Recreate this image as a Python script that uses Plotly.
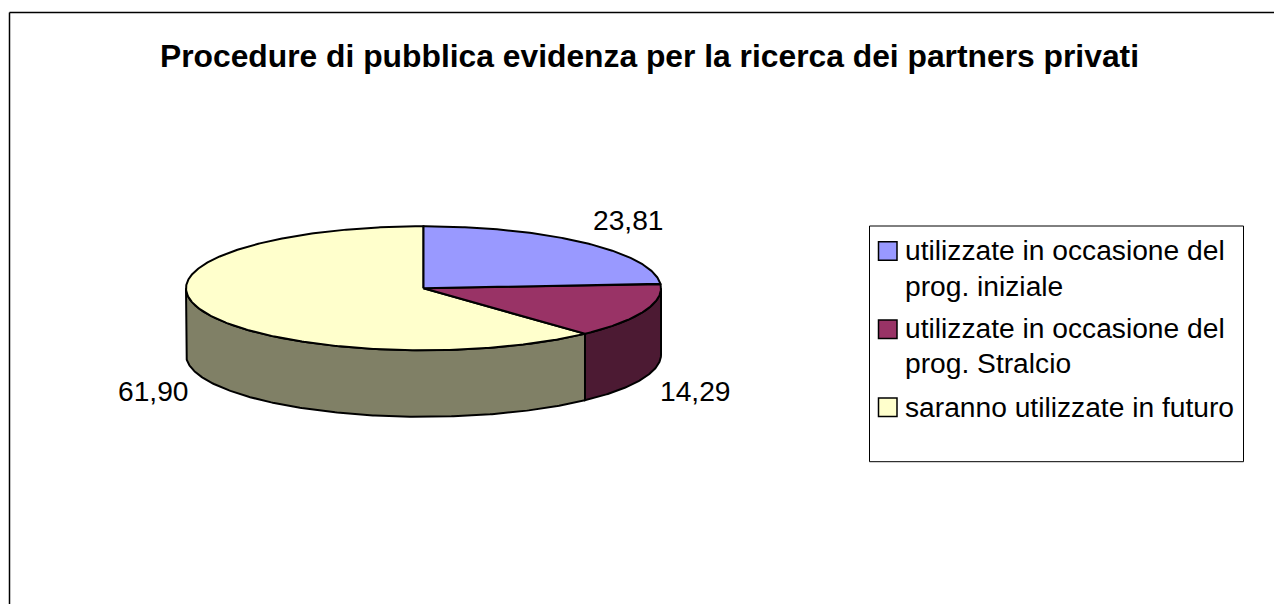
import math
import plotly.graph_objects as go

# ---- data ----
title = "Procedure di pubblica evidenza per la ricerca dei partners privati"
categories = ["utilizzate in occasione del\nprog. iniziale",
              "utilizzate in occasione del\nprog. Stralcio",
              "saranno utilizzate in futuro"]
values = [23.81, 14.29, 61.90]
top_colors = ["#9999FF", "#993366", "#FFFFCC"]
side_colors = ["#4D4D80", "#4C1A33", "#808066"]

# ---- layout constants (pixel-mapped axes) ----
W, H = 1274, 604
CX, CY, RX, RY, DEPTH = 423.5, 288.3, 237.5, 62, 66.5
FONT = "Liberation Sans, Arial, sans-serif"
LABEL_POS = [(628.5, 220), (695.5, 391), (153.5, 391)]
FS_LABEL = 28.2


def pt(deg, dy=0):
    a = math.radians(deg)
    return CX + RX * math.sin(a), CY - RY * math.cos(a) + dy


def arc(a0, a1, dy=0):
    n = max(2, int(abs(a1 - a0) / 0.5) + 1)
    return [pt(a0 + (a1 - a0) * i / (n - 1), dy) for i in range(n)]


fig = go.Figure()
total = sum(values)
spans = []
start = 0.0
for v in values:
    end = start + v / total * 360
    spans.append((start, end))
    start = end

LINE = dict(color="#000000", width=2)


def add_poly(points, fill, name):
    xs = [p[0] for p in points]
    ys = [p[1] for p in points]
    fig.add_trace(go.Scatter(x=xs, y=ys, mode="lines", fill="toself", fillcolor=fill,
                             line=LINE, name=name, showlegend=False, hoverinfo="name"))


# side walls: only the front half of the disc (90..270 degrees from the top)
for (a0, a1), c, cat in zip(spans, side_colors, categories):
    lo, hi = max(a0, 90), min(a1, 270)
    if hi > lo:
        add_poly(arc(lo, hi) + arc(hi, lo, DEPTH) + [pt(lo)], c, cat.replace("\n", " "))

# top faces, yellow first as the reference stacks them
for i in (2, 1, 0):
    a0, a1 = spans[i]
    add_poly([(CX, CY)] + arc(a0, a1) + [(CX, CY)], top_colors[i], categories[i].replace("\n", " "))

shapes = [
    dict(type="line", x0=9.5, x1=W, y0=12.5, y1=12.5, line=dict(color="#000", width=1.5)),
    dict(type="line", x0=9.5, x1=9.5, y0=12.5, y1=H, line=dict(color="#000", width=1.5)),
    dict(type="rect", x0=869.5, x1=1243.5, y0=226, y1=461.7, line=dict(color="#000", width=1), fillcolor="#fff"),
]
annotations = [dict(x=649.5, y=56, text=f"<b>{title}</b>", showarrow=False, xanchor="center", yanchor="middle",
                    font=dict(family=FONT, size=31.8, color="#000"))]

for v, (x, y) in zip(values, LABEL_POS):
    annotations.append(dict(x=x, y=y, text=f"{v:.2f}".replace(".", ","), showarrow=False, xanchor="center",
                            yanchor="middle", font=dict(family=FONT, size=FS_LABEL, color="#000")))

swatch_tops = [241.7, 320, 398]
line_centers = [[250, 285.5], [328, 362.5], [407]]
for cat, c, st, lcs in zip(categories, top_colors, swatch_tops, line_centers):
    shapes.append(dict(type="rect", x0=878.5, x1=897, y0=st, y1=st + 18.5, fillcolor=c,
                       line=dict(color="#000", width=1.5)))
    for text, y in zip(cat.split("\n"), lcs):
        annotations.append(dict(x=903, y=y, text=text, showarrow=False, xanchor="left", yanchor="middle",
                                font=dict(family=FONT, size=FS_LABEL, color="#000")))

fig.update_layout(
    width=W, height=H, margin=dict(l=0, r=0, t=0, b=0),
    paper_bgcolor="#fff", plot_bgcolor="#fff", showlegend=False,
    xaxis=dict(range=[0, W], visible=False, fixedrange=True),
    yaxis=dict(range=[H, 0], visible=False, fixedrange=True),
    shapes=shapes, annotations=annotations,
)
fig.write_html("out.html", config={"displayModeBar": False},
               post_script="document.body.style.margin='0';document.body.style.overflow='hidden';")
